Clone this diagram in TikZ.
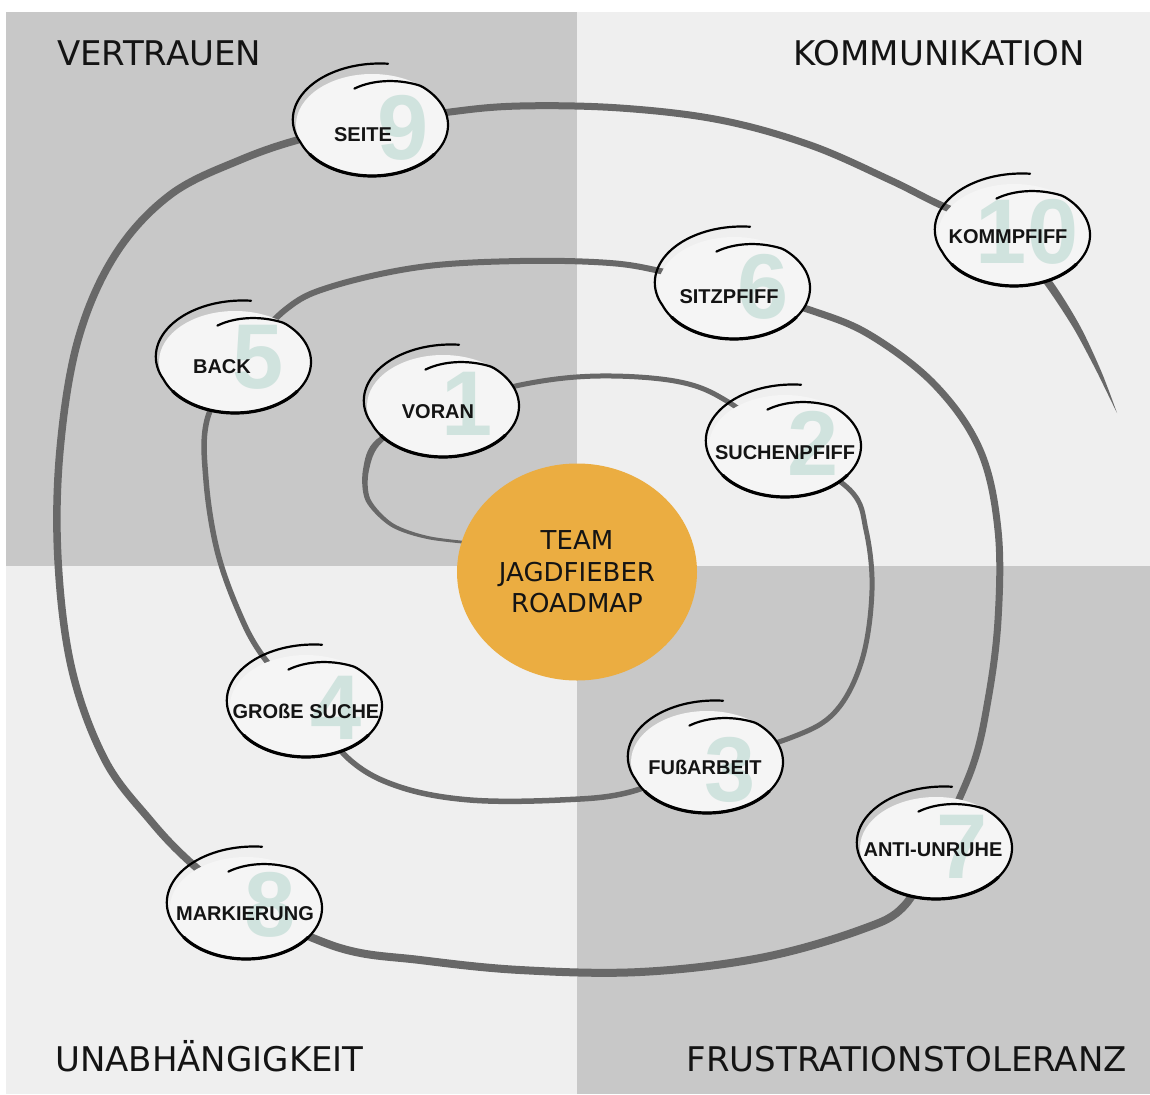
\documentclass[tikz,border=0pt]{standalone}
\usepackage{fontspec}
\setmainfont{DejaVu Sans}
\newfontfamily\labfont{Liberation Sans}
\usetikzlibrary{calc,shapes.geometric}
\pgfdeclarelayer{bg}
\pgfsetlayers{bg,main}
\definecolor{qdark}{RGB}{200,200,200}
\definecolor{qlight}{RGB}{239,239,239}
\definecolor{spcol}{RGB}{104,104,104}
\definecolor{knotfill}{RGB}{245,245,245}
\definecolor{numcol}{RGB}{208,227,222}
\definecolor{hub}{RGB}{235,173,65}
\definecolor{ink}{RGB}{20,20,20}
\newcommand{\knotsketch}[1]{%
\begin{scope}[shift={(#1.center)}]
\draw[sketchline] plot[domain=80:468,samples=150,variable=\t]
 ({76*(1+0.22*max(0,(200-\t)/120)-0.25*max(0,(\t-410)/58))*cos(\t)},
  {-51*(1+0.22*max(0,(200-\t)/120)-0.25*max(0,(\t-410)/58))*sin(\t)});
\draw[sketchline,line width=3.2pt] plot[domain=215:325,samples=40,variable=\t] ({76*cos(\t)},{-51*sin(\t)});
\end{scope}}
\begin{document}
\begin{tikzpicture}[x=1pt,y=-1pt,
  knot/.style={ellipse, minimum width=152pt, minimum height=102pt, inner sep=0pt, fill=knotfill},
  knotnum/.style={inner sep=0pt, text=numcol, font={\labfont\bfseries\fontsize{92}{92}\selectfont}},
  knotlab/.style={inner sep=0pt, text=ink, font={\labfont\bfseries\fontsize{20}{22}\selectfont}},
  spiralA/.style={draw=spcol, line cap=round, line join=round},
  sketchline/.style={draw=black, line width=2.2pt, line cap=round, line join=round},
  quadlabel/.style={inner sep=0pt, text=ink, font={\fontsize{34}{40}\selectfont}}]
\useasboundingbox (0,0) rectangle (1150,1094);
\begin{pgfonlayer}{bg}
\fill[white] (0,0) rectangle (1150,1094);
\fill[qdark] (6,12) rectangle (577,566);
\fill[qlight] (577,12) rectangle (1150,566);
\fill[qlight] (6,566) rectangle (577,1094);
\fill[qdark] (577,566) rectangle (1150,1094);
\end{pgfonlayer}

% quadrant labels
\node[quadlabel, anchor=base west] (qtl) at (57,66) {VERTRAUEN};
\node[quadlabel, anchor=base east] (qtr) at (1085,66) {KOMMUNIKATION};
\node[quadlabel, anchor=base west] (qbl) at (55,1071) {UNABHÄNGIGKEIT};
\node[quadlabel, anchor=base east] (qbr) at (1127,1071) {FRUSTRATIONSTOLERANZ};

% hub
\node[ellipse, minimum width=240pt, minimum height=217pt, fill=hub, inner sep=0pt, align=center, text=ink,
  font={\fontsize{26}{31.5}\selectfont}] (hubnode) at (577,572) {TEAM\\JAGDFIEBER\\ROADMAP};

% knots
\node[knot] (n1) at (443,406) {};
\node[knot] (n2) at (785,446) {};
\node[knot] (n3) at (707,762) {};
\node[knot] (n4) at (306,706) {};
\node[knot] (n5) at (235,362) {};
\node[knot] (n6) at (734,288) {};
\node[knot] (n7) at (936,848) {};
\node[knot] (n8) at (246,908) {};
\node[knot] (n9) at (372,125) {};
\node[knot] (n10) at (1014,235) {};

\node[knotnum] (n1num) at ($(n1)+(24,-2)$) {1};
\node[knotnum] (n2num) at ($(n2)+(28,-3)$) {2};
\node[knotnum] (n3num) at ($(n3)+(23,8)$) {3};
\node[knotnum] (n4num) at ($(n4)+(30,2)$) {4};
\node[knotnum] (n5num) at ($(n5)+(23,-5)$) {5};
\node[knotnum] (n6num) at ($(n6)+(29,-1)$) {6};
\node[knotnum] (n7num) at ($(n7)+(26,-1)$) {7};
\node[knotnum] (n8num) at ($(n8)+(24,-3)$) {8};
\node[knotnum] (n9num) at ($(n9)+(31,3)$) {9};
\node[knotnum] (n10num) at ($(n10)+(13,-3)$) {10};

\knotsketch{n1}\knotsketch{n2}\knotsketch{n3}\knotsketch{n4}\knotsketch{n5}
\knotsketch{n6}\knotsketch{n7}\knotsketch{n8}\knotsketch{n9}\knotsketch{n10}

\node[knotlab] (n1lab) at ($(n1)+(-5,6)$) {VORAN};
\node[knotlab] (n2lab) at ($(n2)+(0,7)$) {SUCHENPFIFF};
\node[knotlab] (n3lab) at ($(n3)+(-2,5)$) {FUßARBEIT};
\node[knotlab] (n4lab) at ($(n4)+(0,5)$) {GROßE SUCHE};
\node[knotlab] (n5lab) at ($(n5)+(-13,5)$) {BACK};
\node[knotlab] (n6lab) at ($(n6)+(-5,9)$) {SITZPFIFF};
\node[knotlab] (n7lab) at ($(n7)+(-3,2)$) {ANTI-UNRUHE};
\node[knotlab] (n8lab) at ($(n8)+(-1,6)$) {MARKIERUNG};
\node[knotlab] (n9lab) at ($(n9)+(-9,10)$) {SEITE};
\node[knotlab] (n10lab) at ($(n10)+(-6,2)$) {KOMMPFIFF};

\coordinate (tailend) at (1117,413);

% spiral
\begin{pgfonlayer}{bg}
\fill[spcol] plot[smooth] coordinates {(n1.center) (377,439) (363,469.5) (365.7,501) (391,526.7) (429.7,539.5) (490,546)}
  -- plot[smooth] coordinates {(490,543.5) (430.3,536.5) (393,523.3) (370.3,498.9) (368.9,470.6) (383,441.5) (n1.center)} -- cycle;
\draw[spiralA, line width=5pt] plot[smooth, tension=0.6] coordinates {(n1.center) (525,384) (600,376) (680,382) (730,403) (n2.center)};
\draw[spiralA, line width=5pt] plot[smooth, tension=0.6] coordinates {(n2.center) (850,490) (866,530) (872,590) (862,660) (835,712) (790,738) (n3.center)};
\draw[spiralA, line width=5.5pt] plot[smooth, tension=0.6] coordinates {(n3.center) (630,792) (560,800) (470,800) (400,787) (350,760) (n4.center)};
\draw[spiralA, line width=5.5pt] plot[smooth, tension=0.6] coordinates {(n4.center) (262,655) (238,610) (217,550) (206,480) (207,420) (n5.center)};
\draw[spiralA, line width=6pt] plot[smooth, tension=0.6] coordinates {(n5.center) (285,310) (330,287) (420,267) (520,261) (610,263) (665,272) (n6.center)};
\draw[spiralA, line width=7pt] plot[smooth, tension=0.6] coordinates {(n6.center) (810,310) (870,335) (935,385) (980,450) (998,530) (998,620) (988,700) (972,768) (n7.center)};
\draw[spiralA, line width=8pt] plot[smooth, tension=0.6] coordinates {(n7.center) (905,905) (860,930) (760,958) (640,972) (520,970) (420,960) (340,948) (n8.center)};
\draw[spiralA, line width=7.5pt] plot[smooth, tension=0.6] coordinates {(n8.center) (190,862) (150,820) (105,760) (72,670) (58,560) (60,450) (78,340) (115,255) (170,195) (240,160) (305,138) (n9.center)};
\draw[spiralA, line width=7pt] plot[smooth, tension=0.6] coordinates {(n9.center) (450,112) (520,106) (620,108) (720,120) (810,145) (890,180) (945,207) (n10.center)};
\fill[spcol] plot[smooth] coordinates {(n10.center) (1052,281) (1080,326) (1101.5,372) (tailend)}
  -- plot[smooth] coordinates {(1098,374) (1074,329) (1045,285) (1008,238)} -- cycle;
\end{pgfonlayer}
\end{tikzpicture}
\end{document}
